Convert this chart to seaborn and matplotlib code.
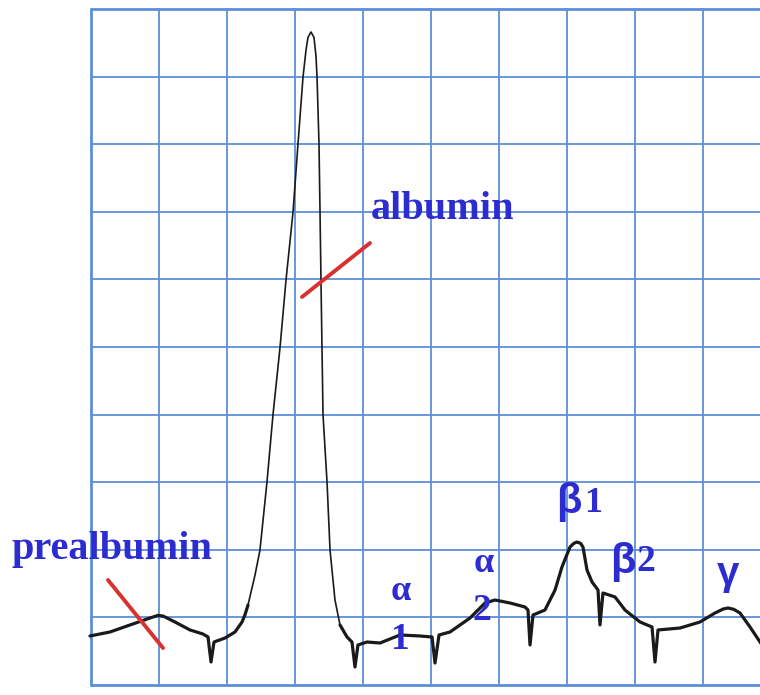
import pandas as pd
import seaborn as sns
import matplotlib.pyplot as plt

# densitometer trace of serum protein electrophoresis, in grid units
mobility = [-0.015, 0.279, 0.574, 0.868, 0.985, 1.059, 1.130, 1.235, 1.456, 1.647, 1.721, 1.765,
            1.809, 1.971, 2.118, 2.221, 2.265, 2.309, 2.412, 2.485, 2.588, 2.676, 2.779, 2.868,
            2.971, 3.044, 3.118, 3.162, 3.191, 3.235, 3.279, 3.309, 3.324, 3.353, 3.368, 3.382,
            3.397, 3.412, 3.471, 3.515, 3.588, 3.662, 3.765, 3.838, 3.882, 3.926, 4.059, 4.250,
            4.544, 4.838, 5.015, 5.059, 5.118, 5.279, 5.574, 5.794, 5.941, 6.162, 6.382, 6.426,
            6.456, 6.500, 6.676, 6.824, 6.926, 7.044, 7.100, 7.147, 7.200, 7.235, 7.294, 7.368,
            7.456, 7.485, 7.529, 7.706, 7.853, 8.074, 8.250, 8.294, 8.338, 8.662, 8.956, 9.176,
            9.300, 9.368, 9.450, 9.544, 9.691, 9.868]
density = [0.725, 0.784, 0.888, 0.991, 1.030, 1.020, 0.985, 0.932, 0.814, 0.754, 0.710, 0.340,
           0.636, 0.695, 0.784, 0.932, 1.040, 1.183, 1.627, 1.997, 3.003, 3.994, 4.985, 5.991,
           6.997, 8.003, 8.994, 9.393, 9.580, 9.660, 9.580, 9.300, 8.994, 8.003, 6.997, 5.991,
           4.985, 3.994, 3.003, 1.997, 1.257, 0.888, 0.710, 0.636, 0.266, 0.592, 0.636, 0.621,
           0.740, 0.725, 0.710, 0.325, 0.740, 0.784, 0.991, 1.213, 1.257, 1.213, 1.154, 1.109,
           0.592, 1.036, 1.109, 1.405, 1.746, 2.041, 2.095, 2.115, 2.095, 2.041, 1.701, 1.524,
           1.405, 0.888, 1.361, 1.302, 1.109, 0.932, 0.858, 0.340, 0.814, 0.843, 0.932, 1.065,
           1.125, 1.139, 1.120, 1.065, 0.858, 0.592]

# the albumin peak is drawn with a thinner pen
albumin_range = (2.3, 3.7)

# fraction labels: text, x, y, size, font
labels = ["albumin", "prealbumin", "α", "1", "α", "2", "β", "1", "β", "2", "γ"]
label_x = [5.176, 0.309, 4.559, 4.544, 5.779, 5.750, 7.029, 7.382, 7.824, 8.162, 9.368]
label_y = [7.027, 1.997, 1.390, 0.680, 1.800, 1.109, 2.700, 2.680, 1.820, 1.830, 1.640]
label_size = [29, 29, 26, 27, 26, 27, 30, 26, 30, 27, 29]
label_font = ["serif", "serif", "serif", "serif", "serif", "serif",
              "sans", "serif", "sans", "serif", "sans"]

# red pointer strokes
albumin_ptr_x = [3.103, 4.103]
albumin_ptr_y = [5.740, 6.538]
prealb_ptr_x = [0.250, 1.059]
prealb_ptr_y = [1.553, 0.547]

sns.set_style("white")
plt.rcParams['font.family'] = ['Liberation Serif', 'DejaVu Serif']
families = {"serif": ['Liberation Serif', 'DejaVu Serif'],
            "sans": ['Liberation Sans', 'DejaVu Sans']}

df = pd.DataFrame({"mobility": mobility, "density": density})
thin = df[(df.mobility >= albumin_range[0]) & (df.mobility <= albumin_range[1])]
left = df[df.mobility <= albumin_range[0] + 0.02]
right = df[df.mobility >= albumin_range[1] - 0.1]

fig = plt.figure(figsize=(7.6, 6.95), dpi=100)
ax = fig.add_axes([0, 0, 1, 1])

grid_color = "#5b8fd9"
for i in range(11):
    ax.plot([i, i], [0, 10], color=grid_color, lw=1.3 if i else 2.0, zorder=1)
    ax.plot([0, 10.5], [i, i], color=grid_color, lw=1.3 if i not in (0, 10) else 2.0, zorder=1)

for part, w in [(left, 2.3), (right, 2.3), (thin, 1.2)]:
    sns.lineplot(data=part, x="mobility", y="density", ax=ax, color="#1a1a1a", lw=w,
                 sort=False, estimator=None, zorder=3)

ax.plot(albumin_ptr_x, albumin_ptr_y, color="#d93030", lw=2.8, zorder=4)
ax.plot(prealb_ptr_x, prealb_ptr_y, color="#d93030", lw=2.8, zorder=4)

for t, x, y, s, f in zip(labels, label_x, label_y, label_size, label_font):
    ax.text(x, y, t, fontsize=s, fontweight="bold", color="#2c2cd0",
            family=families[f], ha="center", va="center", zorder=5)

ax.set_xlim(-1.338, 9.838)
ax.set_ylim(-0.148, 10.133)
ax.set_axis_off()

plt.savefig("out.png", dpi=100)
